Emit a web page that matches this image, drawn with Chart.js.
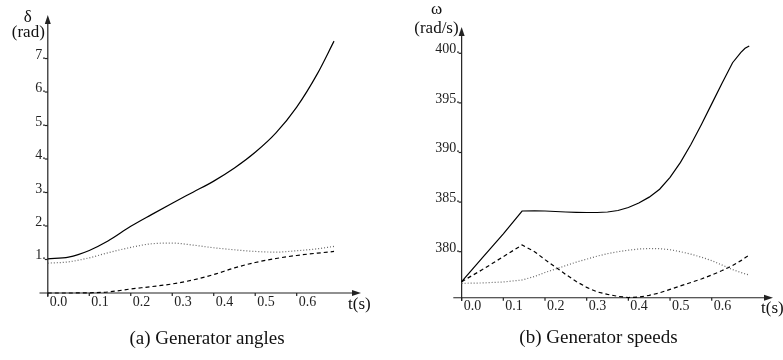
<!DOCTYPE html>
<html><head><meta charset="utf-8">
<script src="https://cdn.jsdelivr.net/npm/chart.js@4"></script>
<style>
body{margin:0;background:#fff;width:783px;height:360px;overflow:hidden;position:relative}
canvas{position:absolute;top:0}
</style></head>
<body>
<canvas id="ca" width="391" height="360" style="left:0"></canvas>
<canvas id="cb" width="392" height="360" style="left:391px"></canvas>
<script>
// ---------- data ----------
const tA = [0, 0.05, 0.1, 0.145, 0.2, 0.25, 0.3, 0.35, 0.4, 0.45, 0.5, 0.55, 0.6, 0.65, 0.69];
const deltaSolid  = [1.02, 1.07, 1.27, 1.55, 1.99, 2.34, 2.68, 3.01, 3.34, 3.73, 4.2, 4.78, 5.55, 6.55, 7.52];
const deltaDotted = [0.89, 0.93, 1.05, 1.2, 1.36, 1.47, 1.49, 1.43, 1.35, 1.29, 1.24, 1.22, 1.26, 1.32, 1.39];
const deltaDashed = [0, 0, 0.005, 0.03, 0.12, 0.19, 0.27, 0.39, 0.55, 0.75, 0.91, 1.03, 1.12, 1.19, 1.24];

const tB = [0, 0.05, 0.1, 0.145, 0.175, 0.2, 0.225, 0.25, 0.275, 0.3, 0.325, 0.35, 0.375, 0.4,
            0.425, 0.45, 0.475, 0.5, 0.525, 0.55, 0.575, 0.6, 0.625, 0.65, 0.67, 0.68, 0.69];
const omegaSolid  = [376.98, 379.4, 381.8, 384.1, 384.12, 384.1, 384.05, 384.0, 383.97, 383.95, 383.95, 384.0, 384.15, 384.45,
                     384.9, 385.5, 386.3, 387.5, 389.0, 390.8, 392.8, 394.9, 397.0, 399.05, 400.1, 400.5, 400.74];
const omegaDashed = [376.98, 378.2, 379.5, 380.68, 380.0, 379.2, 378.45, 377.7, 377.0, 376.4, 375.95, 375.7, 375.5, 375.38,
                     375.42, 375.6, 375.85, 376.2, 376.55, 376.9, 377.25, 377.65, 378.1, 378.6, 379.1, 379.38, 379.67];
const omegaDotted = [376.81, 376.85, 376.95, 377.15, 377.5, 377.9, 378.25, 378.6, 378.95, 379.25, 379.55, 379.8, 380.0, 380.15,
                     380.27, 380.32, 380.3, 380.2, 380.0, 379.75, 379.45, 379.1, 378.65, 378.2, 377.9, 377.77, 377.65];

const xTickValues = [0, 0.1, 0.2, 0.3, 0.4, 0.5, 0.6];
const xTickLabels = ["0.0", "0.1", "0.2", "0.3", "0.4", "0.5", "0.6"];
const yTickValuesA = [1, 2, 3, 4, 5, 6, 7];
const yTickLabelsA = ["1.", "2.", "3.", "4.", "5.", "6.", "7."];
const yTickValuesB = [380, 385, 390, 395, 400];
const yTickLabelsB = ["380.", "385.", "390.", "395.", "400."];

// ---------- drawing helpers ----------
const FONT = '"Liberation Serif", "Times New Roman", serif';
const axesPlugin = {
  id: 'axesDraw',
  beforeDatasetsDraw(chart, args, o) {
    const ctx = chart.ctx, xs = chart.scales.x, ys = chart.scales.y;
    const x0 = xs.getPixelForValue(o.originX), y0 = ys.getPixelForValue(o.originY);
    const xL = xs.left, xR = xs.right, yT = ys.top, yB = ys.bottom;
    ctx.save();
    ctx.strokeStyle = '#222'; ctx.fillStyle = '#222'; ctx.lineWidth = 1.2;
    // x axis
    ctx.beginPath(); ctx.moveTo(xL, y0); ctx.lineTo(xR - 4, y0); ctx.stroke();
    ctx.beginPath(); ctx.moveTo(xR, y0); ctx.lineTo(xR - 9, y0 - 3); ctx.lineTo(xR - 9, y0 + 3); ctx.closePath(); ctx.fill();
    // y axis
    ctx.beginPath(); ctx.moveTo(x0, yB); ctx.lineTo(x0, yT + 4); ctx.stroke();
    ctx.beginPath(); ctx.moveTo(x0, yT); ctx.lineTo(x0 - 3, yT + 9); ctx.lineTo(x0 + 3, yT + 9); ctx.closePath(); ctx.fill();
    // y ticks
    ctx.font = '14px ' + FONT; ctx.fillStyle = '#222';
    ctx.textAlign = 'right'; ctx.textBaseline = 'alphabetic';
    o.yTicks.forEach((v, i) => {
      const y = ys.getPixelForValue(v);
      ctx.beginPath(); ctx.moveTo(x0 - 3, y); ctx.lineTo(x0, y); ctx.stroke();
      ctx.fillText(o.yLabels[i], x0 - 2, y);
    });
    // x ticks
    ctx.textAlign = 'left'; ctx.textBaseline = 'top';
    o.xTicks.forEach((v, i) => {
      const x = xs.getPixelForValue(v);
      ctx.beginPath(); ctx.moveTo(x, y0); ctx.lineTo(x, y0 + 3); ctx.stroke();
      ctx.fillText(o.xLabels[i], x + 2, y0 + 2);
    });
    // titles
    ctx.font = '17px ' + FONT; ctx.fillStyle = '#111';
    ctx.textAlign = 'left'; ctx.textBaseline = 'middle';
    ctx.fillText(o.xTitle, xR + o.xTitleDx, y0 + o.xTitleDy);
    ctx.textAlign = 'center';
    ctx.fillText(o.yTitle1, x0 + o.yTitle1Dx, o.yTitle1Y);
    ctx.textAlign = 'right';
    ctx.fillText(o.yTitle2, x0 - 3, o.yTitle2Y);
    // caption
    ctx.font = '19px ' + FONT; ctx.textAlign = 'center'; ctx.fillStyle = '#111';
    ctx.fillText(o.caption, o.captionX, o.captionY);
    ctx.restore();
  }
};

function series(t, v) { return t.map((x, i) => ({ x: x, y: v[i] })); }
function ds(t, v, kind, smooth) {
  const base = { data: series(t, v), borderWidth: 1.2, pointRadius: 0, fill: false };
  if (smooth) base.cubicInterpolationMode = 'monotone'; else base.tension = 0;
  if (kind === 'solid') return Object.assign(base, { borderColor: '#000' });
  if (kind === 'dashed') return Object.assign(base, { borderColor: '#000', borderDash: [4, 3] });
  return Object.assign(base, { borderColor: '#666', borderDash: [1, 2] });
}

function makeChart(id, datasets, xr, yr, pad, opts) {
  return new Chart(document.getElementById(id), {
    type: 'line',
    data: { datasets: datasets },
    options: {
      responsive: false, animation: false, events: [],
      layout: { padding: pad },
      scales: {
        x: { type: 'linear', min: xr[0], max: xr[1], display: false },
        y: { type: 'linear', min: yr[0], max: yr[1], display: false }
      },
      plugins: { legend: { display: false }, tooltip: { enabled: false }, axesDraw: opts }
    },
    plugins: [axesPlugin]
  });
}

makeChart('ca',
  [ds(tA, deltaSolid, 'solid', true), ds(tA, deltaDotted, 'dotted', true), ds(tA, deltaDashed, 'dashed', true)],
  [-0.02, 0.755], [-0.12, 8.3],
  { left: 39.5, right: 30, top: 15, bottom: 63 },
  { originX: 0, originY: 0, xTicks: xTickValues, xLabels: xTickLabels,
    yTicks: yTickValuesA, yLabels: yTickLabelsA,
    xTitle: 't(s)', xTitleDx: -13, xTitleDy: 12,
    yTitle1: 'δ', yTitle1Dx: -20, yTitle1Y: 18, yTitle2: '(rad)', yTitle2Y: 33,
    caption: '(a) Generator angles', captionX: 207, captionY: 339 });

makeChart('cb',
  [ds(tB, omegaSolid, 'solid', false), ds(tB, omegaDotted, 'dotted', false), ds(tB, omegaDashed, 'dashed', false)],
  [-0.02, 0.747], [375.03, 402.65],
  { left: 62.3, right: 10, top: 27, bottom: 59 },
  { originX: 0, originY: 375.36, xTicks: xTickValues, xLabels: xTickLabels,
    yTicks: yTickValuesB, yLabels: yTickLabelsB,
    xTitle: 't(s)', xTitleDx: -12, xTitleDy: 11,
    yTitle1: 'ω', yTitle1Dx: -25, yTitle1Y: 10, yTitle2: '(rad/s)', yTitle2Y: 29,
    caption: '(b) Generator speeds', captionX: 207.5, captionY: 338 });
</script>
</body></html>
